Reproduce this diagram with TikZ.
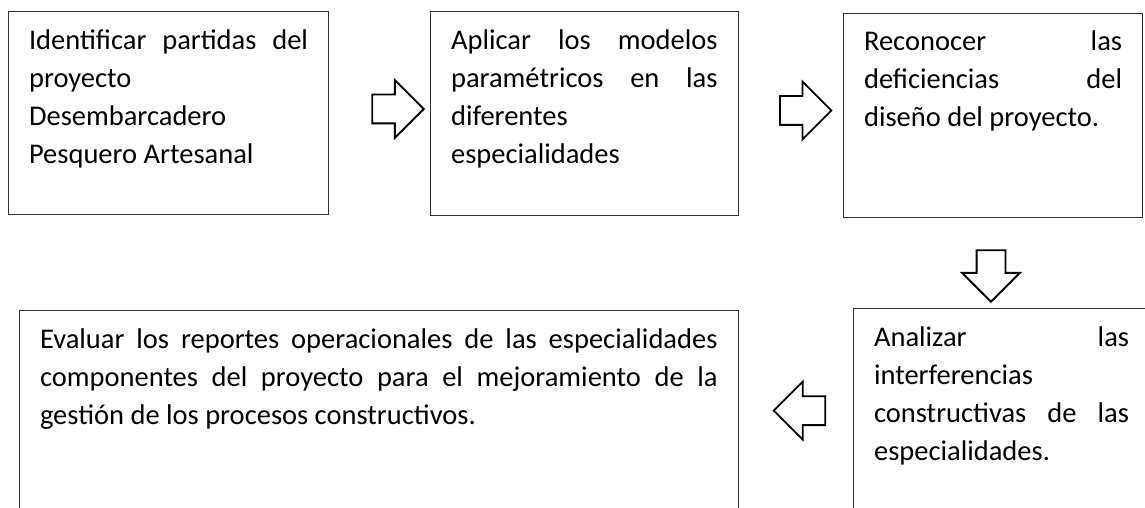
\documentclass[tikz,border=0pt]{standalone}
\usepackage{fontspec}
\setmainfont{Carlito}
\usetikzlibrary{shapes.arrows}
\tolerance=10000
\hbadness=10000
\hyphenpenalty=10000
\begin{document}
\begin{tikzpicture}[x=1pt, y=-1pt,
	box/.style={draw=black!80, line width=1.1pt, anchor=north west, align=justify, inner xsep=20.5pt, inner ysep=0pt, text height=37.5pt, font=\fontsize{28.5}{38}\selectfont},
	flecha/.style={draw, single arrow, single arrow head extend=14.5pt, inner xsep=0pt, inner ysep=13.5pt, text height=0pt, text depth=0pt, minimum height=51.5pt, line width=1.8pt}]
	\useasboundingbox (0,0) rectangle (1145,508);
	\clip (0,0) rectangle (1145,508);
	
	\node[box, text width=279pt, text depth=165.5pt] (I) at (8,11) {Identificar partidas del\linebreak proyecto\\ Desembarcadero\\ Pesquero Artesanal};
	\node[box, text width=266.5pt, text depth=166pt] (A) at (430,11) {Aplicar los modelos\linebreak paramétricos en las\linebreak diferentes\\ especialidades};
	\node[box, text width=258pt, text depth=166.3pt] (R) at (843,12.7) {Reconocer las\linebreak deficiencias del\linebreak diseño del proyecto.};
	\node[box, text width=255pt, text depth=250pt] (N) at (853,308) {Analizar las\linebreak interferencias\\ constructivas de las\linebreak especialidades.};
	\node[box, text width=677.5pt, text depth=250pt] (E) at (19,310) {Evaluar los reportes operacionales de las especialidades\linebreak componentes del proyecto para el mejoramiento de la\linebreak gestión de los procesos constructivos.};
	
	\node[flecha] (IA) at (390.8,109) {};
	\node[flecha] (AR) at (798.5,110.5) {};
	\node[flecha, rotate=-90] (RN) at (991,268.8) {};
	\node[flecha, rotate=180] (NE) at (806.7,410.7) {};
\end{tikzpicture}
\end{document}
